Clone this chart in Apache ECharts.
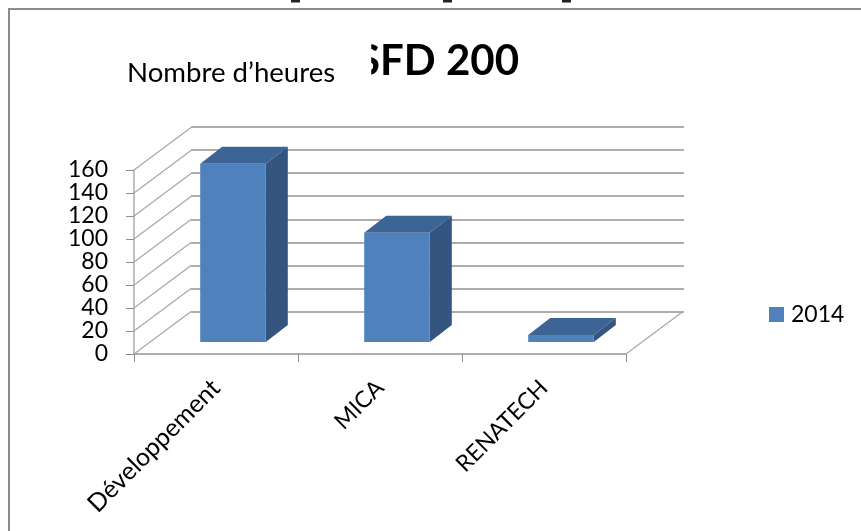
<!DOCTYPE html>
<html>
<head>
<meta charset="utf-8">
<style>html,body{margin:0;padding:0;background:#fff;overflow:hidden}#c{width:861px;height:531px;filter:blur(0.45px)}</style>
<script src="https://cdn.jsdelivr.net/npm/echarts@6/dist/echarts.min.js"></script>
</head>
<body>
<div id="c"></div>
<script>
const categories = ['Développement', 'MICA', 'RENATECH'];
const seriesName = '2014';
const values = [155, 95, 6];
const yTicks = [0, 20, 40, 60, 80, 100, 120, 140, 160];
const titleText = 'SFD 200';
const yTitle = 'Nombre d’heures';

const FONT = 'Lato';
const WALL = {dx: 57, dy: 42.5};
const BASE = {dx: 17, dy: 12};
const BAR = {dx: 22, dy: 17, ratio: 0.4};
const GRID_COLOR = '#adadad';
const chart = echarts.init(document.getElementById('c'), null, {renderer: 'canvas'});

function obliques(params, api) {
  const cs = params.coordSys;
  const y = api.coord([0, api.value(0)])[1];
  return {
    type: 'line',
    shape: {x1: cs.x, y1: y, x2: cs.x + WALL.dx, y2: y - WALL.dy},
    style: {stroke: GRID_COLOR, lineWidth: 1.5}
  };
}
function floorEdge(params, api) {
  const cs = params.coordSys;
  const y = cs.y + cs.height;
  const x = cs.x + cs.width;
  return {
    type: 'line',
    shape: {x1: x, y1: y, x2: x + WALL.dx, y2: y - WALL.dy},
    style: {stroke: GRID_COLOR, lineWidth: 1.5}
  };
}
function bar3d(params, api) {
  const c = api.coord([api.value(0), api.value(1)]);
  const y0 = api.coord([api.value(0), 0])[1] - BASE.dy;
  const w = api.size([1, 0])[0] * BAR.ratio;
  const l = c[0] + BASE.dx - w / 2, r = l + w, t = c[1] - BASE.dy;
  return {
    type: 'group',
    children: [
      {type: 'polygon', shape: {points: [[l, t], [r, t], [r + BAR.dx, t - BAR.dy], [l + BAR.dx, t - BAR.dy]]},
       style: {fill: '#3c6494'}},
      {type: 'polygon', shape: {points: [[r, t], [r + BAR.dx, t - BAR.dy], [r + BAR.dx, y0 - BAR.dy], [r, y0]]},
       style: {fill: '#335580'}},
      {type: 'rect', shape: {x: l, y: t, width: w, height: y0 - t}, style: {fill: '#4f81bd'}}
    ]
  };
}

chart.setOption({
  animation: false,
  backgroundColor: '#fff',
  textStyle: {fontFamily: FONT},
  title: [
    {text: titleText, left: 357, top: 40, padding: 0, z: 5,
     textStyle: {fontFamily: FONT, fontSize: 42, fontWeight: 'bold', color: '#000'}},
    {text: yTitle, left: 127, top: 39, padding: [20, 36, 6, 0], backgroundColor: '#fff', z: 7,
     textStyle: {fontFamily: FONT, fontSize: 27.6, fontWeight: 'normal', color: '#000'}}
  ],
  legend: {
    left: 769, top: 303, itemWidth: 15, itemHeight: 15, itemGap: 0, icon: 'rect',
    padding: 0,
    data: [{name: seriesName, itemStyle: {color: '#4f81bd'}}],
    textStyle: {fontFamily: FONT, fontSize: 23, color: '#000', padding: [1, 0, 0, 2]}
  },
  grid: [
    {left: 134, top: 170, width: 492, height: 184},
    {left: 191, top: 127, width: 493, height: 184.5}
  ],
  xAxis: [
    {type: 'category', gridIndex: 0,
     data: categories.map((c, i) => i === 0 ? {value: c, textStyle: {fontSize: 25}} : c),
     axisLine: {lineStyle: {color: GRID_COLOR, width: 2}},
     axisTick: {show: true, length: 8, alignWithLabel: false, lineStyle: {color: '#8c8c8c', width: 1}},
     axisLabel: {interval: 0, rotate: 45, margin: 30, color: '#000', fontFamily: FONT, fontSize: 23}},
    {type: 'category', gridIndex: 1, data: categories, show: false}
  ],
  yAxis: [
    {type: 'value', gridIndex: 0, min: 0, max: yTicks[yTicks.length - 1], interval: 20,
     axisLine: {show: true, lineStyle: {color: GRID_COLOR, width: 1.5}},
     axisTick: {show: true, length: 8, lineStyle: {color: '#8c8c8c', width: 1}},
     splitLine: {show: false},
     axisLabel: {margin: 26, color: '#000', fontFamily: FONT, fontSize: 23}},
    {type: 'value', gridIndex: 1, min: 0, max: yTicks[yTicks.length - 1], interval: 20,
     axisLine: {show: false}, axisTick: {show: false}, axisLabel: {show: false},
     splitLine: {show: true, lineStyle: {color: GRID_COLOR, width: 2}}}
  ],
  series: [
    {name: 'walls', type: 'custom', xAxisIndex: 0, yAxisIndex: 0, renderItem: obliques,
     data: yTicks.map(v => [v]), encode: {y: 0}, silent: true, z: 1},
    {name: 'floor', type: 'custom', xAxisIndex: 0, yAxisIndex: 0, renderItem: floorEdge,
     data: [[0]], encode: {y: 0}, silent: true, z: 1},
    {name: seriesName, type: 'custom', xAxisIndex: 0, yAxisIndex: 0, renderItem: bar3d,
     data: values.map((v, i) => [i, v]), encode: {x: 0, y: 1}, z: 3,
     itemStyle: {color: '#4f81bd'}}
  ],
  graphic: [
    {type: 'rect', z: 100, shape: {x: 9, y: 9, width: 900, height: 600},
     style: {fill: 'none', stroke: '#8c8c8c', lineWidth: 2}},
    {type: 'rect', z: 100, shape: {x: 291, y: 0, width: 9, height: 2.5}, style: {fill: '#222'}},
    {type: 'rect', z: 100, shape: {x: 443, y: 0, width: 9, height: 2.5}, style: {fill: '#222'}},
    {type: 'rect', z: 100, shape: {x: 562, y: 0, width: 9, height: 2.5}, style: {fill: '#222'}}
  ]
});
</script>
</body>
</html>
